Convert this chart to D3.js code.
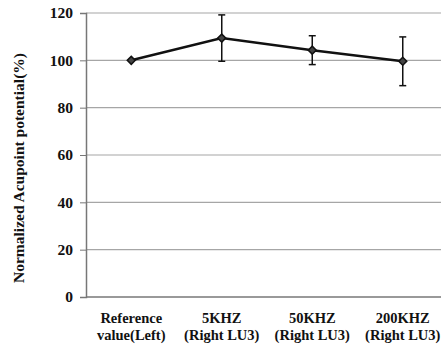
<!DOCTYPE html>
<html>
<head>
<meta charset="utf-8">
<script src="https://cdn.jsdelivr.net/npm/d3@7"></script>
<style>
  body { margin: 0; background: #fff; }
  text { font-family: "Liberation Serif", "Times New Roman", serif; font-weight: bold; fill: #111; }
</style>
</head>
<body>
<div id="chart"></div>
<script>
var categories = [["Reference", "value(Left)"], ["5KHZ", "(Right LU3)"], ["50KHZ", "(Right LU3)"], ["200KHZ", "(Right LU3)"]];
var values = [100, 109.4, 104.3, 99.6];
var errors = [0, 9.8, 6.1, 10.3];
var yTicks = [0, 20, 40, 60, 80, 100, 120];

var margin = {top: 13, left: 86};
var bandWidth = 90.5;
var height = 284;

var svg = d3.select("#chart").append("svg")
  .attr("width", 441)
  .attr("height", 348);

var g = svg.append("g")
  .attr("transform", "translate(" + margin.left + "," + margin.top + ")");

var x = d3.scaleBand()
  .domain(d3.range(categories.length))
  .range([0, bandWidth * categories.length]);

var y = d3.scaleLinear()
  .domain([0, 120])
  .range([height, 0]);

// gridlines
g.selectAll(".grid")
  .data(yTicks.filter(function (d) { return d > 0; }))
  .enter().append("line")
  .attr("x1", 0)
  .attr("x2", 400)
  .attr("y1", function (d) { return y(d); })
  .attr("y2", function (d) { return y(d); })
  .attr("stroke", "#a6a6a6")
  .attr("stroke-width", 1.2);

var yAxis = d3.axisLeft(y)
  .tickValues(yTicks)
  .tickSize(6)
  .tickPadding(7);

var ya = g.append("g").call(yAxis);
ya.attr("font-family", null);
ya.select(".domain").attr("stroke", "#777").attr("stroke-width", 1.5);
ya.selectAll(".tick line").attr("stroke", "#777");
ya.selectAll("text").style("font-size", "15.5px").attr("fill", "#111");

// x axis baseline
g.append("line")
  .attr("x1", 0).attr("x2", 400)
  .attr("y1", y(0)).attr("y2", y(0))
  .attr("stroke", "#777").attr("stroke-width", 1.5);

// category labels
var lab = g.selectAll(".xlab")
  .data(categories)
  .enter().append("text")
  .attr("text-anchor", "middle")
  .attr("transform", function (d, i) {
    return "translate(" + (x(i) + x.bandwidth() / 2) + "," + (y(0) + 26) + ")";
  })
  .style("font-size", "14.5px");
lab.append("tspan").attr("x", 0).attr("y", 0).text(function (d) { return d[0]; });
lab.append("tspan").attr("x", 0).attr("y", 17).text(function (d) { return d[1]; });

// y label
svg.append("text")
  .attr("transform", "translate(24,168) rotate(-90)")
  .attr("text-anchor", "middle")
  .style("font-size", "15.5px")
  .text("Normalized Acupoint potential(%)");

var cx = function (i) { return x(i) + x.bandwidth() / 2; };

// line
var line = d3.line()
  .x(function (d, i) { return cx(i); })
  .y(function (d) { return y(d); });

g.append("path")
  .datum(values)
  .attr("d", line)
  .attr("fill", "none")
  .attr("stroke", "#111")
  .attr("stroke-width", 2.5);

// error bars
var eb = g.selectAll(".err")
  .data(values.map(function (v, i) { return {v: v, e: errors[i], i: i}; }).filter(function (d) { return d.e > 0; }))
  .enter().append("g")
  .attr("stroke", "#111")
  .attr("stroke-width", 1.5);
eb.append("line")
  .attr("x1", function (d) { return cx(d.i); })
  .attr("x2", function (d) { return cx(d.i); })
  .attr("y1", function (d) { return y(d.v + d.e); })
  .attr("y2", function (d) { return y(d.v - d.e); });
eb.append("line")
  .attr("x1", function (d) { return cx(d.i) - 3.5; })
  .attr("x2", function (d) { return cx(d.i) + 3.5; })
  .attr("y1", function (d) { return y(d.v + d.e); })
  .attr("y2", function (d) { return y(d.v + d.e); });
eb.append("line")
  .attr("x1", function (d) { return cx(d.i) - 3.5; })
  .attr("x2", function (d) { return cx(d.i) + 3.5; })
  .attr("y1", function (d) { return y(d.v - d.e); })
  .attr("y2", function (d) { return y(d.v - d.e); });

// markers
g.selectAll(".pt")
  .data(values)
  .enter().append("path")
  .attr("d", d3.symbol().type(d3.symbolSquare).size(32))
  .attr("transform", function (d, i) { return "translate(" + cx(i) + "," + y(d) + ") rotate(45)"; })
  .attr("fill", "#444")
  .attr("stroke", "#111")
  .attr("stroke-width", 1.5);
</script>
</body>
</html>
